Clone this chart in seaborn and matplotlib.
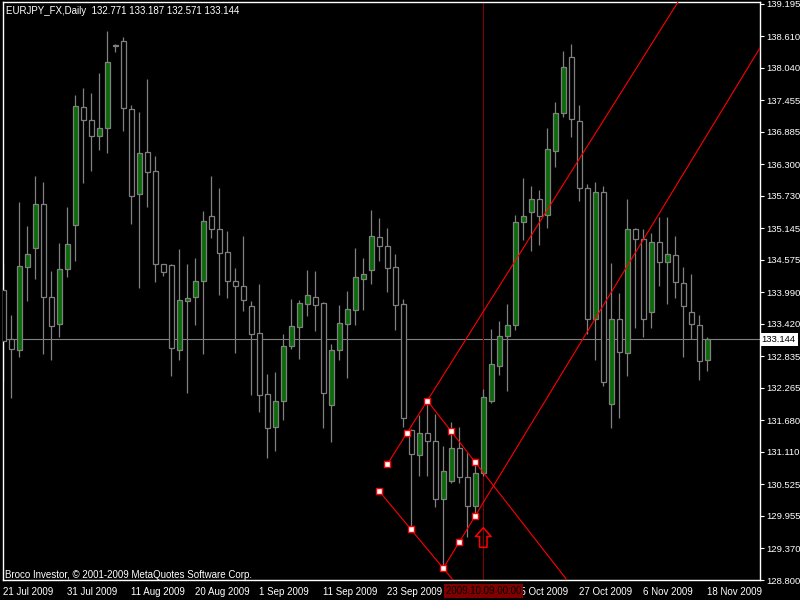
import numpy as np
import pandas as pd
import matplotlib
matplotlib.use('Agg')
import matplotlib.pyplot as plt
import matplotlib.transforms as mtransforms
from matplotlib.path import Path
import seaborn as sns

# daily EURJPY candles, 21 Jul 2009 .. 18 Nov 2009
opens = [134.033, 133.144, 132.945, 134.443, 134.786, 135.580, 133.902, 133.414, 134.407, 135.201,
         137.336, 137.096, 136.807, 136.952, 138.464, 138.527, 137.294, 135.760, 136.518, 136.176,
         134.494, 134.479, 132.945, 133.829, 133.902, 134.190, 135.369, 135.129, 134.714, 134.196,
         134.100, 133.739, 133.252, 132.151, 131.556, 132.025, 133.017, 133.371, 133.786, 133.902,
         133.793, 131.963, 132.956, 133.425, 133.678, 134.237, 134.400, 134.984, 134.822, 134.443,
         133.775, 131.516, 131.061, 131.447, 131.303, 130.253, 130.595, 131.175, 130.655, 130.130,
         130.722, 132.036, 132.667, 133.200, 133.396, 135.257, 135.434, 135.668, 135.380, 136.551,
         137.220, 138.231, 137.091, 135.869, 133.515, 135.797, 131.985, 133.517, 132.905, 135.143,
         134.954, 133.631, 134.894, 134.530, 134.660, 134.154, 133.631, 133.396, 132.771]
highs = [134.497, 133.582, 135.627, 135.188, 136.091, 135.982, 134.376, 134.882, 135.531, 137.553,
         137.679, 137.589, 137.950, 138.708, 138.468, 138.599, 137.372, 137.240, 137.841, 136.446,
         134.497, 134.503, 134.773, 134.503, 134.611, 135.459, 136.091, 135.874, 135.098, 134.425,
         135.008, 133.835, 134.142, 132.517, 132.554, 133.239, 133.871, 133.853, 134.394, 134.376,
         133.817, 133.059, 133.763, 134.015, 134.791, 134.611, 135.477, 135.333, 135.152, 134.683,
         133.871, 131.519, 131.783, 132.030, 131.796, 131.218, 131.651, 131.554, 131.097, 130.929,
         132.238, 133.333, 133.472, 133.781, 135.391, 136.055, 135.903, 135.833, 136.957, 137.426,
         138.343, 138.473, 137.376, 135.952, 135.977, 135.905, 134.515, 133.983, 135.672, 135.147,
         135.131, 135.057, 135.356, 135.356, 135.013, 134.454, 134.322, 133.582, 133.187]
lows = [132.391, 132.079, 132.830, 133.835, 134.232, 132.884, 132.775, 133.191, 134.273, 134.562,
        135.970, 136.186, 136.565, 136.511, 138.323, 136.903, 135.230, 134.075, 135.537, 134.183,
        134.292, 132.487, 132.775, 132.180, 133.402, 132.878, 134.977, 133.943, 133.889, 132.902,
        133.660, 132.144, 131.837, 131.007, 131.133, 131.693, 132.974, 132.794, 133.570, 133.299,
        131.548, 131.296, 132.775, 132.451, 133.402, 133.672, 134.147, 134.557, 133.997, 133.311,
        131.561, 129.762, 130.677, 130.677, 130.112, 129.011, 130.550, 130.547, 129.567, 129.937,
        130.677, 132.003, 132.503, 132.218, 133.308, 134.939, 134.737, 134.851, 135.161, 136.246,
        137.150, 136.786, 135.643, 133.239, 132.779, 132.301, 131.548, 131.718, 132.481, 133.340,
        133.191, 133.342, 134.109, 133.781, 133.898, 132.830, 133.144, 132.415, 132.571]
closes = [133.113, 132.963, 134.467, 134.678, 135.580, 133.912, 133.389, 134.407, 134.858, 137.349,
          137.107, 136.807, 136.952, 138.143, 138.431, 137.313, 135.735, 136.500, 136.172, 134.497,
          134.353, 132.981, 133.848, 133.894, 134.190, 135.273, 135.129, 134.696, 134.201, 134.100,
          133.848, 133.245, 132.144, 131.537, 132.025, 133.017, 133.378, 133.793, 133.938, 133.768,
          132.180, 132.945, 133.432, 133.685, 134.263, 134.317, 135.003, 134.822, 134.436, 133.768,
          131.729, 131.065, 131.447, 131.317, 130.256, 130.761, 131.175, 130.650, 130.130, 130.740,
          132.099, 132.692, 133.200, 133.396, 135.257, 135.363, 135.668, 135.363, 136.573, 137.220,
          138.054, 137.112, 135.867, 133.519, 135.797, 132.382, 133.517, 132.920, 135.143, 134.957,
          133.519, 134.894, 134.544, 134.679, 134.169, 133.750, 133.414, 132.761, 133.144]

# the label at bar 56 sits under the cursor box in the original, so it is left blank
date_tick_idx = [0, 8, 16, 24, 32, 40, 48, 56, 64, 72, 80, 88]
date_tick_labels = ['21 Jul 2009', '31 Jul 2009', '11 Aug 2009', '20 Aug 2009', '1 Sep 2009',
                    '11 Sep 2009', '23 Sep 2009', '', '15 Oct 2009', '27 Oct 2009',
                    '6 Nov 2009', '18 Nov 2009']
price_ticks = [128.800, 129.370, 129.955, 130.525, 131.110, 131.680, 132.265, 132.835, 133.420,
               133.990, 134.575, 135.145, 135.730, 136.300, 136.885, 137.455, 138.040, 138.610, 139.195]

last_price = 133.144
cursor_idx = 60
cursor_label = '2009.10.09 00:00'

# anchor points of the drawn trend lines (bar index, price)
anchor_names = ['A', 'B', 'C', 'D', 'E', 'F', 'G', 'H', 'I', 'J']
anchor_idx = [47, 48, 50.5, 53, 56, 59, 51, 55, 57, 59]
anchor_price = [130.401, 130.888, 131.447, 132.036, 131.489, 130.924, 129.715, 129.011, 129.480, 129.960]
# (start, through, extend-to bar)
trend_lines = [('B', 'D', 96), ('H', 'J', 96), ('A', 'H', 60), ('D', 'F', 76)]

arrow_idx = 60
arrow_price = 129.567

df = pd.DataFrame({'open': opens, 'high': highs, 'low': lows, 'close': closes})
df['idx'] = np.arange(len(df))
df['bull'] = df['close'] >= df['open']

sns.set_style('dark', {'axes.facecolor': 'black', 'figure.facecolor': 'black',
                       'axes.edgecolor': 'white', 'axes.grid': False})
plt.rcParams['font.family'] = ['Liberation Sans', 'DejaVu Sans']

GRAY = '#808080'
GREEN = '#0b6b0b'
FS = 7

fig = plt.figure(figsize=(8, 6), dpi=100)
ax = fig.add_axes([2.5 / 800, 20 / 600, 757.5 / 800, 578 / 600])
ax.set_facecolor('black')

# price line and cursor line behind the candles
ax.axhline(last_price, color=GRAY, lw=0.8, zorder=1)
ax.axvline(cursor_idx, color='#800000', lw=0.8, zorder=1)

# candles
ax.vlines(df['idx'], df['low'], df['high'], color=GRAY, lw=0.9, zorder=2)
body_low = df[['open', 'close']].min(axis=1)
body_h = (df['close'] - df['open']).abs().clip(lower=0.004)
ax.bar(df['idx'], body_h, bottom=body_low, width=0.6,
       color=np.where(df['bull'], GREEN, 'black'), edgecolor=GRAY, linewidth=0.9, zorder=3)

# trend lines
pts = dict(zip(anchor_names, zip(anchor_idx, anchor_price)))
for start, through, x_end in trend_lines:
    x0, y0 = pts[start]
    x1, y1 = pts[through]
    slope = (y1 - y0) / (x1 - x0)
    ax.plot([x0, x_end], [y0, y0 + slope * (x_end - x0)], color='red', lw=0.8, zorder=5)

sns.scatterplot(x=anchor_idx, y=anchor_price, marker='s', s=16, color='white',
                edgecolor='red', linewidth=1, ax=ax, zorder=6, legend=False)

# hollow up arrow
arrow = Path([(0, 1), (0.8, 0.1), (0.38, 0.1), (0.38, -1), (-0.38, -1), (-0.38, 0.1), (-0.8, 0.1), (0, 1)],
             [Path.MOVETO] + [Path.LINETO] * 6 + [Path.CLOSEPOLY])
ax.scatter([arrow_idx], [arrow_price], marker=arrow, s=200, facecolors='none',
           edgecolors='red', linewidths=1.1, zorder=6)

ax.set_xlim(-0.1, 94.59)
ax.set_ylim(128.800, 139.231)

for sp in ax.spines.values():
    sp.set_color('white')
    sp.set_linewidth(1)

ax.set_xticks(date_tick_idx)
ax.set_xticklabels(date_tick_labels, ha='left')
ax.tick_params(axis='x', colors='white', length=4, width=0.8, direction='out', pad=1, labelsize=FS)
ax.yaxis.tick_right()
ax.set_yticks(price_ticks)
ax.set_yticklabels([f'{v:.3f}' for v in price_ticks])
ax.tick_params(axis='y', colors='white', length=3, width=0.8, direction='out', pad=1.5, labelsize=6.8)
ax.set_xlabel('')
ax.set_ylabel('')

# labels on the axes
bt = mtransforms.blended_transform_factory(ax.transData, ax.transAxes)
ax.text(cursor_idx, -0.019, cursor_label, transform=bt, ha='center', va='center', fontsize=FS,
        color='black', clip_on=False, zorder=10,
        bbox=dict(boxstyle='square,pad=0.2', fc='#800000', ec='none'))
rt = mtransforms.blended_transform_factory(ax.transAxes, ax.transData)
ax.text(1.002, last_price, f'{last_price:.3f}', transform=rt, ha='left', va='center', fontsize=6.8,
        color='black', clip_on=False, zorder=10,
        bbox=dict(boxstyle='square,pad=0.2', fc='white', ec='none'))

ax.text(0.0046, 0.984, 'EURJPY_FX,Daily  132.771 133.187 132.571 133.144', transform=ax.transAxes,
        ha='left', va='center', fontsize=FS, color='white')
ax.text(0.0033, 0.0087, 'Broco Investor, \u00a9 2001-2009 MetaQuotes Software Corp.', transform=ax.transAxes,
        ha='left', va='center', fontsize=FS, color='white')

fig.savefig('out.png', dpi=100, facecolor='black')
